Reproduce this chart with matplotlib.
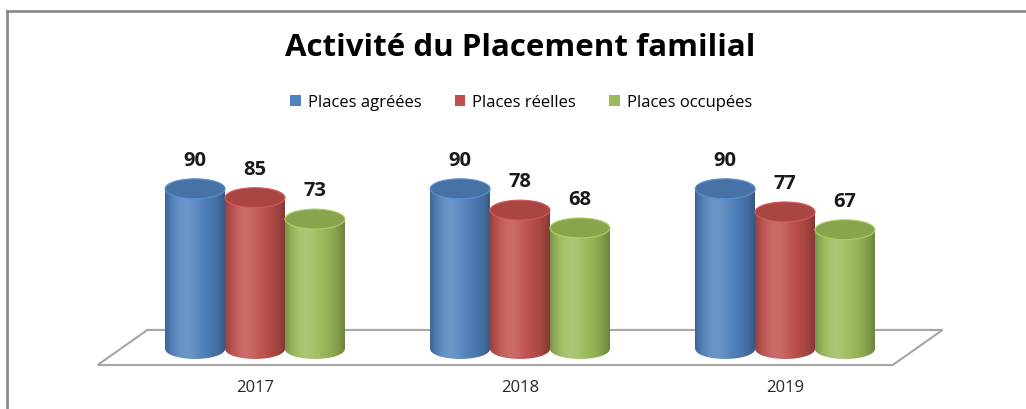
import numpy as np
import matplotlib.pyplot as plt
from matplotlib.patches import Ellipse, Rectangle, Polygon, Patch
from matplotlib.lines import Line2D
from matplotlib.colors import to_rgb

plt.rcParams['font.family'] = ['Open Sans', 'DejaVu Sans']

years = ['2017', '2018', '2019']
series = ['Places agréées', 'Places réelles', 'Places occupées']
agreees = [90, 90, 90]
reelles = [85, 78, 77]
occupees = [73, 68, 67]
colors = ['#4F81BD', '#C0504D', '#9BBB59']

W, H = 1026, 410
fig = plt.figure(figsize=(W / 100, H / 100), dpi=100)
ax = fig.add_axes([0, 0, 1, 1])
ax.set_axis_off()

width = 0.226   # cylinder width (category units)
cap = 5.6       # half height of the elliptical caps (value units)


def shade(color, n=80):
    # horizontal gradient: darker edges, soft highlight left of centre
    t = np.linspace(0, 1, n)
    base = np.array(to_rgb(color))
    light = 0.16 * np.exp(-((t - 0.35) / 0.22) ** 2)
    dark = np.where(t < 0.35, 0.22 * ((0.35 - t) / 0.35) ** 3,
                    0.30 * ((t - 0.35) / 0.65) ** 3)
    rgb = base * (1 - light[:, None]) + light[:, None]
    rgb = rgb * (1 - dark[:, None])
    return rgb[None, :, :]


def cylinder(x, v, color, z):
    x0 = x - width / 2
    grad = shade(color)
    body = Rectangle((x0, 0), width, v, transform=ax.transData)
    im = ax.imshow(grad, extent=[x0, x0 + width, -cap, v], aspect='auto',
                   interpolation='bilinear', zorder=z)
    im.set_clip_path(body)
    bottom = Ellipse((x, 0), width, 2 * cap, transform=ax.transData)
    im2 = ax.imshow(grad, extent=[x0, x0 + width, -cap, v], aspect='auto',
                    interpolation='bilinear', zorder=z)
    im2.set_clip_path(bottom)
    base = np.array(to_rgb(color))
    top = Ellipse((x, v), width, 2 * cap, facecolor=base * 0.88,
                  edgecolor=np.minimum(base * 1.12, 1), lw=0.8, zorder=z + 0.1)
    ax.add_patch(top)
    ax.annotate(str(v), (x, v), xytext=(0, 21), textcoords='offset points',
                ha='center', va='center', fontsize=14.5, fontweight='bold',
                color='#1a1a1a', zorder=z + 0.2)


# floor
back, front, d = 10.7, -9.0, 0.094
n = len(years)
floor = Polygon([(-0.5 + d, back), (n - 0.5 + d, back),
                 (n - 0.5 - d, front), (-0.5 - d, front)],
                closed=True, facecolor='white', edgecolor='#a6a6a6',
                lw=1.5, zorder=1)
ax.add_patch(floor)

x = np.arange(n)
for k, vals in enumerate([agreees, reelles, occupees]):
    for i, v in enumerate(vals):
        cylinder(x[i] + (k - 1) * width, v, colors[k], 2 + k)

for i, yr in enumerate(years):
    ax.text(x[i], -21.3, yr, ha='center', va='center', fontsize=12,
            color='#262626')

ax.set_xlim(-0.962, 2.909)
ax.set_ylim(-33.7, 196.6)

fig.text(520 / W, 1 - 48 / H, 'Activité du Placement familial',
         ha='center', va='center', fontsize=22.5, fontweight='bold')

handles = [Patch(facecolor=c) for c in colors]
fig.legend(handles, series, loc='center', bbox_to_anchor=(521 / W, 1 - 103 / H),
           ncol=3, frameon=False, handlelength=0.65, handleheight=0.65,
           handletextpad=0.4, columnspacing=2.0, fontsize=12)

# chart frame
fig.add_artist(Line2D([7 / W, 1], [1 - 12 / H] * 2, transform=fig.transFigure,
                      color='#8c8c8c', lw=2))
fig.add_artist(Line2D([7 / W] * 2, [0, 1 - 12 / H], transform=fig.transFigure,
                      color='#8c8c8c', lw=2))

fig.savefig('out.png', dpi=100)
